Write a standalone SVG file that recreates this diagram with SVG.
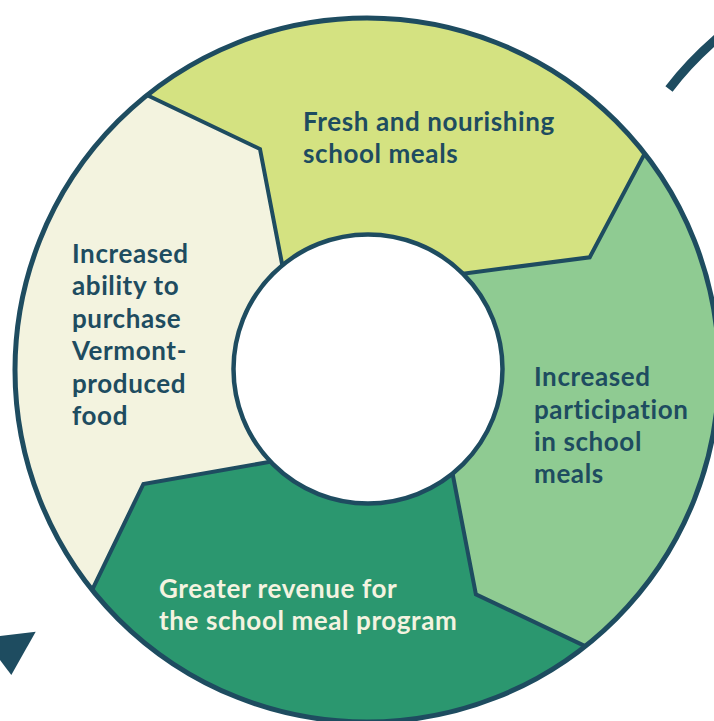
<svg xmlns="http://www.w3.org/2000/svg" width="714" height="721" viewBox="0 0 714 721">
<style>
.lbl{font-family:Lato,"Noto Sans","Liberation Sans",sans-serif;font-weight:700;font-size:26px;letter-spacing:0.6px;fill:#1e4c60}
.lbl.light{fill:#f4f3e0}
.bnd{fill:none;stroke:#1e4c60;stroke-width:4;stroke-linejoin:miter}
.ring{fill:none;stroke:#1e4c60;stroke-width:5}
.deco{fill:none;stroke:#1e4c60;stroke-width:9}
</style>
<defs>
<clipPath id="disc"><circle cx="367" cy="370" r="352"/></clipPath>
</defs>
<rect width="714" height="721" fill="#ffffff"/>
<g clip-path="url(#disc)">
<g id="node-fresh">
<polygon points="112.7,78.8 60,-60 700,-60 662.5,119.9 589.7,257.3 449.7,275.4 367,370 284.6,277.2 260,149" fill="#d4e281"/>
</g>
<g id="node-participation">
<polygon points="662.5,119.9 800,60 800,700 616.7,661.1 475.9,594.3 449.6,458.1 367,370 449.7,275.4 589.7,257.3" fill="#8fcb92"/>
</g>
<g id="node-revenue">
<polygon points="616.7,661.1 700,800 40,800 78.4,618.4 143.4,484 286.5,458.9 367,370 449.6,458.1 475.9,594.3" fill="#2b976f"/>
</g>
<g id="node-purchase">
<polygon points="78.4,618.4 -60,700 -60,40 112.7,78.8 260,149 284.6,277.2 367,370 286.5,458.9 143.4,484" fill="#f3f3df"/>
</g>
<g id="connectors">
<polyline class="bnd" points="112.7,78.8 260,149 284.6,277.2"/>
<polyline class="bnd" points="662.5,119.9 589.7,257.3 449.7,275.4"/>
<polyline class="bnd" points="616.7,661.1 475.9,594.3 449.6,458.1"/>
<polyline class="bnd" points="78.4,618.4 143.4,484 286.5,458.9"/>
</g>
</g>
<circle class="ring" cx="367" cy="370" r="352"/>
<circle cx="368" cy="369" r="134.5" fill="#ffffff" stroke="#1e4c60" stroke-width="4.5"/>
<g id="decor">
<path class="deco" d="M669,89 Q690,61 722,34"/>
<polygon points="-16.6,638 35.7,631.7 11.3,675" fill="#1e4c60"/>
</g>
<g id="labels">
<text class="lbl" x="303" y="131">Fresh and nourishing</text>
<text class="lbl" x="303" y="163">school meals</text>
<text class="lbl" x="72" y="263">Increased</text>
<text class="lbl" x="72" y="295">ability to</text>
<text class="lbl" x="72" y="328">purchase</text>
<text class="lbl" x="72" y="360">Vermont-</text>
<text class="lbl" x="72" y="393">produced</text>
<text class="lbl" x="72" y="425">food</text>
<text class="lbl" x="534" y="386">Increased</text>
<text class="lbl" x="534" y="419">participation</text>
<text class="lbl" x="534" y="451">in school</text>
<text class="lbl" x="534" y="483">meals</text>
<text class="lbl light" x="159" y="598">Greater revenue for</text>
<text class="lbl light" x="159" y="630">the school meal program</text>
</g>
</svg>
